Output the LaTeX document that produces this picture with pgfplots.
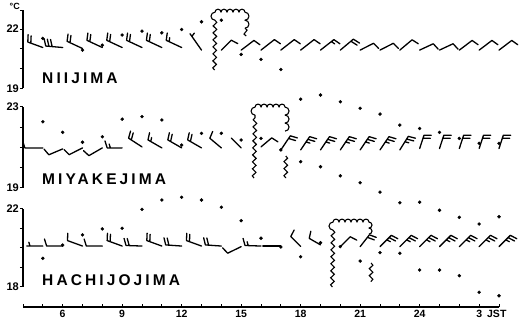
\documentclass[border=0pt]{standalone}
\usepackage{pgfplots}
\pgfplotsset{compat=1.18}
\usepackage{fontspec}
\setmainfont{Liberation Sans}
\newfontfamily\stfont[LetterSpace=20]{Liberation Sans}
\usetikzlibrary{decorations.pathmorphing,calc}

% barb line: #1 = position index (integer), #2 = percent of full length (integer)
\newcommand\barbline[2]{%
  \pgfpathmoveto{\pgfqpoint{\dimexpr\barblen pt-3.2pt*#1\relax}{0pt}}%
  \pgfpathlineto{\pgfqpoint{\dimexpr\barblen pt-3.2pt*#1+2.2pt*#2/100\relax}{\dimexpr-7pt*#2/100\relax}}%
}
\pgfdeclareplotmark{barb}{%
  \pgfpathmoveto{\pgfpointorigin}%
  \pgfpathlineto{\pgfqpoint{\barblen pt}{0pt}}%
  \ifnum\barbf>0 \barbline{0}{100}\fi
  \ifnum\barbf>1 \barbline{1}{100}\fi
  \ifnum\barbf>2 \barbline{2}{100}\fi
  \ifnum\barbh>0 \ifnum\barbf=0 \barbline{1}{55}\else\barbline{\barbf}{55}\fi\fi
  \pgfusepathqstroke
}

\tikzset{stn/.style={anchor=base west, font=\stfont\bfseries\fontsize{15.5}{15.5}\selectfont, inner sep=0pt},
  snk/.style={line width=1.1pt, black, decorate, decoration={snake, segment length=7pt, amplitude=1.8pt}},
  cl/.style={line width=1.1pt, black, line join=round}}
\pgfplotsset{
  panel/.style={scale only axis, width=476pt, xmin=4, xmax=28, clip=false,
    axis x line=none, axis y line=left, axis line style={line width=1.1pt,-},
    tick style={line width=1pt, black}, tick align=outside, major tick length=3pt,
    yticklabel style={font=\bfseries\fontsize{11}{11}\selectfont, inner sep=1pt},
    /pgf/number format/assume math mode=true},
  barbs/.style={scatter, only marks, mark=barb,
    scatter/use mapped color={draw=black},
    visualization depends on={value \thisrow{ang} \as \barbang},
    visualization depends on={value \thisrow{len} \as \barblen},
    visualization depends on={value \thisrow{nf} \as \barbf},
    visualization depends on={value \thisrow{nh} \as \barbh},
    scatter/@pre marker code/.append style={/tikz/rotate=\barbang},
    mark options={line width=1.3pt, line cap=round, line join=round}},
  dots/.style={only marks, mark=*, mark size=1.5pt, black}
}

\begin{document}
\begin{tikzpicture}[x=1pt,y=1pt]
\useasboundingbox (0,0) rectangle (522,323);

% ---------------- NIIJIMA ----------------
\begin{axis}[panel, at={(23pt,234.5pt)}, anchor=south west, height=78.2pt,
  ymin=19, ymax=22.95, ytick={19,20,21,22,22.95}, yticklabels={19,{},{},22,{}},
  ylabel={°C}, ylabel style={rotate=-90, at={(axis description cs:0,1)}, anchor=south east,
    font=\bfseries\fontsize{9}{9}\selectfont, inner sep=0pt, xshift=-3pt, yshift=1pt}]
\addplot[dots] table {
x y
5 21.53
7 20.94
8 21.19
9 21.70
10 21.90
11 21.81
12 21.98
13 22.37
14 22.45
15 20.72
16 20.47
17 19.96
18 18.46
19 18.67
20 18.33
21 18.00
22 17.71
23 17.15
24 16.98
25 16.78
26 16.48
27 16.23
28 16.23
};
\addplot[barbs] table {
x y ang len nf nh
5 21.07 160 16 2 0
6 21.07 175 17 3 0
7 21.02 155 17 2 0
8 21.07 155 17 2 0
9 21.07 155 17 2 0
10 21.07 155 17 2 0
11 21.07 155 17 2 0
12 21.07 155 17 1 1
13 20.94 125 20 0 1
14 20.94 45 14 1 0
15 20.94 37 16 1 0
16 20.94 38 17 1 0
17 20.94 38 17 1 0
18 20.94 38 17 1 0
19 20.94 38 17 1 1
20 20.94 40 17 2 0
21 20.94 27 15 1 0
22 20.94 27 15 1 0
23 20.94 40 16 1 0
24 20.94 25 15 1 0
25 20.94 25 15 1 0
26 20.94 37 16 1 0
27 20.94 37 16 1 0
28 20.94 37 16 1 0
};
\node[stn] at (axis cs:4.96,19.27) {NIIJIMA};
\coordinate (n1) at (axis cs:13.66,19.93);
\coordinate (n2) at (axis cs:13.68,22.45);
\coordinate (n8) at (axis cs:15.25,21.65);
\end{axis}

% ---------------- MIYAKEJIMA ----------------
\begin{axis}[panel, at={(23pt,135pt)}, anchor=south west, height=81pt,
  ymin=19, ymax=23, ytick={19,20,21,22,23}, yticklabels={19,{},{},{},23}]
\addplot[dots] table {
x y
5 22.27
6 21.75
7 21.26
8 21.53
9 22.40
10 22.52
11 22.36
12 21.12
13 21.70
14 21.70
15 21.37
16 21.45
17 20.88
18 20.30
19 20.05
20 19.60
21 19.26
22 18.80
23 18.27
24 18.30
25 17.90
26 17.55
27 17.22
28 17.58
};
\addplot[barbs] table {
x y ang len nf nh
5 20.98 180 18 1 0
6 20.93 203 15 1 0
7 20.98 207 15 1 0
8 20.98 210 15.5 1 0
9 20.98 180 15 1 1
10 21.03 147 16 2 0
11 20.98 150 16 1 1
12 20.98 150 16 2 0
13 20.98 150 16 2 0
14 20.98 140 15 1 0
15 20.98 135 14 0 0
16 21.03 40 14 1 0
17 20.88 56 17 2 0
18 20.88 56 16 2 1
19 20.88 56 16 2 1
20 20.88 56 16 2 1
21 20.88 56 16 2 1
22 20.88 56 16 2 1
23 20.88 58 16 2 1
24 20.95 72 14 2 0
25 20.95 72 14 2 0
26 20.95 72 14 2 0
27 20.95 72 14 2 0
28 20.95 72 14 2 0
};
\node[stn] at (axis cs:4.96,19.15) {MIYAKEJIMA};
\coordinate (m1) at (axis cs:15.65,19.49);
\coordinate (m2) at (axis cs:15.70,22.60);
\coordinate (m8) at (axis cs:17.25,20.58);
\coordinate (m9) at (axis cs:17.25,19.49);
\end{axis}

% ---------------- HACHIJOJIMA ----------------
\begin{axis}[panel, at={(23pt,36pt)}, anchor=south west, height=78pt,
  ymin=18, ymax=22, ytick={18,19,20,21,22}, yticklabels={18,{},{},{},22}]
\addplot[dots] table {
x y
5 19.47
6 20.15
7 20.67
8 20.98
9 21.01
10 21.98
11 22.46
12 22.60
13 22.46
14 22.09
15 21.40
16 20.50
17 20.05
18 19.55
19 20.27
20 20.07
21 19.33
22 19.76
23 19.73
24 18.87
25 18.87
26 18.58
27 17.73
28 17.55
};
\addplot[barbs] table {
x y ang len nf nh
5 20.1 180 16 0 1
6 20.1 180 16 1 0
7 20.1 160 16 1 0
8 20.1 180 16 1 0
9 20.1 160 16 2 0
10 20.1 178 16 2 0
11 20.1 160 16 2 0
12 20.1 176 16 2 0
13 20.1 160 16 2 0
14 20.1 176 16 2 0
15 20.07 206 15 1 0
16 20.1 178 16 1 1
17 20.1 180 18 0 0
18 20.08 135 14 1 0
19 20.16 150 13 1 0
20 20.07 45 14 1 0
21 20.07 52 15 2 0
22 20.07 45 16 2 1
23 20.07 45 16 2 1
24 20.07 45 16 2 1
25 20.07 45 16 2 1
26 20.07 45 16 2 1
27 20.07 45 16 2 1
28 20.07 45 16 2 1
};
\node[stn] at (axis cs:4.96,18.1) {HACHIJOJIMA};
\coordinate (h1) at (axis cs:19.60,18.00);
\coordinate (h2) at (axis cs:19.63,20.92);
\coordinate (h7) at (axis cs:21.55,19.23);
\coordinate (h8) at (axis cs:21.55,18.26);
\end{axis}

% ---------------- time axis ----------------
\begin{axis}[scale only axis, width=476pt, height=10pt, at={(23pt,16pt)}, anchor=south west,
  xmin=4, xmax=28, ymin=0, ymax=1, axis x line=bottom, axis y line=none,
  axis line style={line width=1.2pt,-},
  xtick={6,9,...,27}, xticklabels={6,9,12,15,18,21,24,{\makebox[0pt]{3}\rlap{\hspace{8pt}JST}}},
  minor xtick={4,...,28}, tick align=inside, major tick length=2.5pt, minor tick length=2.5pt,
  tick style={line width=1pt, black},
  xticklabel style={font=\bfseries\fontsize{10.5}{10.5}\selectfont, inner sep=1pt, yshift=-2pt},
  /pgf/number format/assume math mode=true]
\addplot[draw=none] coordinates {(4,0) (28,0)};
\end{axis}

% shower-cloud symbols (annotations)
\draw[snk] (n1) -- (n2);
\draw[cl] (n2) arc[start angle=270,end angle=90,radius=4pt]
  \foreach \i in {1,...,5}{arc[start angle=180,end angle=0,radius=3pt]}
  \foreach \i in {1,2}{arc[start angle=90,end angle=-90,radius=4pt]};
\draw[snk] ($(n2)+(30pt,-8pt)$) -- (n8);
\draw[snk] (m1) -- (m2);
\draw[cl] (m2) arc[start angle=270,end angle=90,radius=4pt]
  \foreach \i in {1,...,5}{arc[start angle=180,end angle=0,radius=3pt]}
  \foreach \i in {1,2,3}{arc[start angle=90,end angle=-90,radius=4pt]};
\draw[snk] (m8) -- (m9);
\draw[snk] (h1) -- (h2);
\draw[cl] (h2) arc[start angle=270,end angle=90,radius=4pt]
  \foreach \i in {1,...,6}{arc[start angle=180,end angle=0,radius=3pt]}
  \foreach \i in {1,2}{arc[start angle=90,end angle=-90,radius=3pt]};
\draw[snk] (h7) -- (h8);
\end{tikzpicture}
\end{document}
